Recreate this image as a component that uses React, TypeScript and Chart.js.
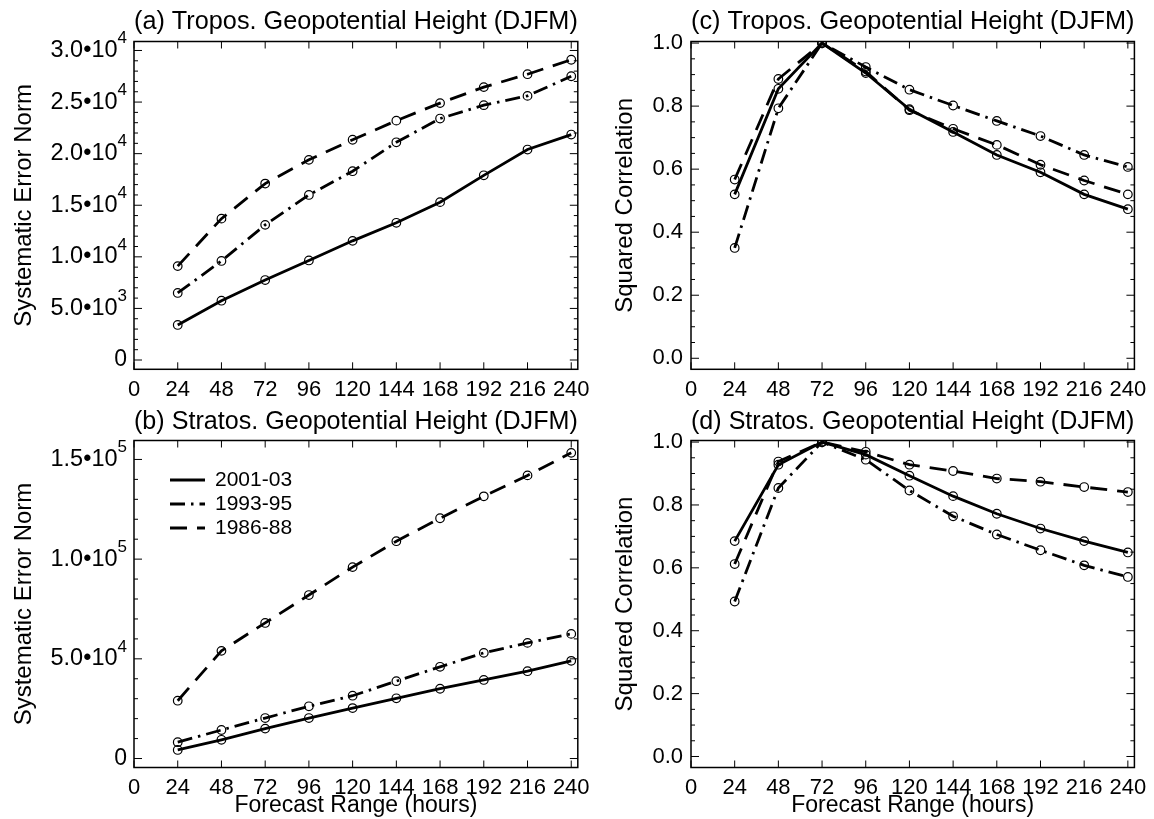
import React, { useEffect, useRef } from "react";
import { Chart, registerables } from "chart.js";

Chart.register(...registerables);

// ---------------- data ----------------
const HOURS = [24, 48, 72, 96, 120, 144, 168, 192, 216, 240];
const SERIES_NAMES = ["2001-03", "1993-95", "1986-88"];
const X_TICK_STEP = 24;
const X_MIN = 0;
const X_MAX = 243.6;

// (a) Tropospheric geopotential height, systematic error norm
const A_2001 = [3400, 5750, 7750, 9650, 11550, 13300, 15300, 17900, 20400, 21850];
const A_1993 = [6500, 9600, 13100, 16000, 18300, 21100, 23400, 24700, 25600, 27500];
const A_1986 = [9100, 13700, 17100, 19400, 21350, 23200, 24900, 26450, 27700, 29100];

// (b) Stratospheric geopotential height, systematic error norm
const B_2001 = [4300, 9400, 15000, 20300, 25300, 30200, 35000, 39400, 43800, 49000];
const B_1993 = [8200, 14300, 20300, 26200, 31500, 38800, 46000, 53000, 58000, 62500];
const B_1986 = [29000, 54000, 68000, 82000, 96000, 109000, 120500, 131500, 142000, 153300];

// (c) Tropospheric geopotential height, squared correlation
const C_2001 = [0.52, 0.855, 1.0, 0.905, 0.79, 0.718, 0.645, 0.59, 0.52, 0.473];
const C_1993 = [0.35, 0.793, 1.0, 0.924, 0.852, 0.802, 0.753, 0.705, 0.645, 0.607];
const C_1986 = [0.567, 0.886, 1.0, 0.91, 0.787, 0.728, 0.677, 0.614, 0.564, 0.52];

// (d) Stratospheric geopotential height, squared correlation
const D_2001 = [0.685, 0.928, 1.0, 0.96, 0.893, 0.828, 0.772, 0.725, 0.685, 0.649];
const D_1993 = [0.493, 0.854, 1.0, 0.944, 0.846, 0.764, 0.706, 0.656, 0.608, 0.571];
const D_1986 = [0.612, 0.938, 1.0, 0.969, 0.928, 0.908, 0.884, 0.874, 0.857, 0.841];

const TITLES = [
  "(a) Tropos. Geopotential Height (DJFM)",
  "(b) Stratos. Geopotential Height (DJFM)",
  "(c) Tropos. Geopotential Height (DJFM)",
  "(d) Stratos. Geopotential Height (DJFM)",
];
const Y_TITLE_ERR = "Systematic Error Norm";
const Y_TITLE_CORR = "Squared Correlation";
const X_TITLE = "Forecast Range (hours)";

// ---------------- styling ----------------
const FONT = "'Liberation Sans', Arial, Helvetica, sans-serif";
const W = 1154;
const H = 819;
const DASHES: number[][] = [[], [15, 6, 2.5, 6], [17, 10]];

type Panel = {
  title: string;
  yTitle: string;
  xTitle?: string;
  series: number[][];
  yMin: number;
  yMax: number;
  yMajor: number;
  yMinor: number;
  sci: boolean;
  legend: boolean;
  pad: { left: number; top: number; right: number; bottom: number };
  yWidth: number;
  xHeight: number;
  titlePad: { top: number; bottom: number };
  yTitlePad: number;
};

const PANELS: Panel[] = [
  {
    title: TITLES[0], yTitle: Y_TITLE_ERR, series: [A_2001, A_1993, A_1986],
    yMin: -900, yMax: 30870, yMajor: 5000, yMinor: 1000, sci: true, legend: false,
    pad: { left: 0, top: 0, right: W - 577.8, bottom: H - 369.3 - 40 },
    yWidth: 134, xHeight: 40, titlePad: { top: 6.7, bottom: 3.6 }, yTitlePad: 9.6,
  },
  {
    title: TITLES[1], yTitle: Y_TITLE_ERR, xTitle: X_TITLE, series: [B_2001, B_1993, B_1986],
    yMin: -4500, yMax: 159500, yMajor: 50000, yMinor: 10000, sci: true, legend: true,
    pad: { left: 0, top: 400, right: W - 577.8, bottom: 0 },
    yWidth: 134, xHeight: 51.5, titlePad: { top: 6.4, bottom: 2.9 }, yTitlePad: 9.6,
  },
  {
    title: TITLES[2], yTitle: Y_TITLE_CORR, series: [C_2001, C_1993, C_1986],
    yMin: -0.035, yMax: 1.005, yMajor: 0.2, yMinor: 0.05, sci: false, legend: false,
    pad: { left: 590, top: 0, right: 18, bottom: H - 369.3 - 40 },
    yWidth: 101, xHeight: 40, titlePad: { top: 6.7, bottom: 3.6 }, yTitlePad: 20.6,
  },
  {
    title: TITLES[3], yTitle: Y_TITLE_CORR, xTitle: X_TITLE, series: [D_2001, D_1993, D_1986],
    yMin: -0.035, yMax: 1.005, yMajor: 0.2, yMinor: 0.05, sci: false, legend: false,
    pad: { left: 590, top: 400, right: 18, bottom: 0 },
    yWidth: 101, xHeight: 51.5, titlePad: { top: 6.4, bottom: 2.9 }, yTitlePad: 20.6,
  },
];

// Draws the IDL-style frame, inward ticks, scientific tick labels and legend
const idlPlugin = {
  id: "idlFrame",
  afterDatasetsDraw(chart: any, _args: any, opts: any) {
    const { ctx, chartArea: ca } = chart;
    const xs = chart.scales.x;
    const ys = chart.scales.y;
    ctx.save();
    ctx.strokeStyle = "#000";
    // frame
    ctx.lineWidth = 1.5;
    ctx.setLineDash([]);
    ctx.strokeRect(ca.left, ca.top, ca.right - ca.left, ca.bottom - ca.top);
    // x ticks
    ctx.lineWidth = 1;
    for (let v = X_MIN; v <= X_MAX + 1e-9; v += X_TICK_STEP) {
      const px = xs.getPixelForValue(v);
      ctx.beginPath();
      ctx.moveTo(px, ca.bottom);
      ctx.lineTo(px, ca.bottom - 7);
      ctx.moveTo(px, ca.top);
      ctx.lineTo(px, ca.top + 7);
      ctx.stroke();
    }
    // y ticks (major + minor)
    const start = Math.ceil(ys.min / opts.yMinor - 1e-6);
    const end = Math.floor(ys.max / opts.yMinor + 1e-6);
    const ratio = Math.round(opts.yMajor / opts.yMinor);
    for (let k = start; k <= end; k++) {
      const v = k * opts.yMinor;
      const py = ys.getPixelForValue(v);
      const len = k % ratio === 0 ? 8 : 4;
      ctx.beginPath();
      ctx.moveTo(ca.left, py);
      ctx.lineTo(ca.left + len, py);
      ctx.moveTo(ca.right, py);
      ctx.lineTo(ca.right - len, py);
      ctx.stroke();
    }
    // scientific labels
    if (opts.sci) {
      ctx.fillStyle = "#000";
      ctx.textBaseline = "middle";
      ctx.textAlign = "right";
      const xr = ca.left - 7;
      for (let v = 0; v <= ys.max + 1e-9; v += opts.yMajor) {
        const py = ys.getPixelForValue(v);
        if (v === 0) {
          ctx.font = `23px ${FONT}`;
          ctx.fillText("0", xr, py);
          continue;
        }
        const e = Math.floor(Math.log10(v) + 1e-9);
        const m = v / Math.pow(10, e);
        const sup = String(e);
        ctx.font = `17px ${FONT}`;
        const sw = ctx.measureText(sup).width;
        ctx.fillText(sup, xr, py - 12);
        ctx.font = `23.5px ${FONT}`;
        ctx.fillText(m.toFixed(1) + "\u202210", xr - sw, py);
      }
    }
    // legend
    if (opts.legend) {
      chart.data.datasets.forEach((d: any, i: number) => {
        const y = ca.top + 39.5 + i * 24;
        ctx.strokeStyle = "#000";
        ctx.lineWidth = d.borderWidth;
        ctx.setLineDash(d.borderDash || []);
        ctx.beginPath();
        ctx.moveTo(ca.left + 36, y);
        ctx.lineTo(ca.left + 71, y);
        ctx.stroke();
        ctx.setLineDash([]);
        ctx.fillStyle = "#000";
        ctx.font = `21px ${FONT}`;
        ctx.textAlign = "left";
        ctx.textBaseline = "middle";
        ctx.fillText(d.label, ca.left + 81, y);
      });
    }
    ctx.restore();
  },
};

function PanelChart({ p }: { p: Panel }) {
  const ref = useRef<HTMLCanvasElement | null>(null);
  useEffect(() => {
    if (!ref.current) return;
    const datasets = p.series.map((vals, i) => ({
      label: SERIES_NAMES[i],
      data: HOURS.map((h, j) => ({ x: h, y: vals[j] })),
      borderColor: "#000",
      borderWidth: 2.8,
      borderDash: DASHES[i],
      pointRadius: 4.3,
      pointBorderWidth: 1.2,
      pointBorderColor: "#000",
      pointBackgroundColor: "rgba(0,0,0,0)",
      pointStyle: "circle",
      tension: 0,
      fill: false,
    }));
    const tickFont = { family: FONT, size: 22 };
    const chart = new Chart(ref.current, {
      type: "line",
      data: { datasets },
      plugins: [idlPlugin],
      options: {
        animation: false,
        responsive: false,
        layout: { padding: p.pad, autoPadding: false },
        plugins: {
          legend: { display: false },
          tooltip: { enabled: false },
          title: {
            display: true,
            text: p.title,
            fullSize: false,
            color: "#000",
            font: { family: FONT, size: 26, weight: "normal" },
            padding: p.titlePad,
          },
          idlFrame: {
            yMajor: p.yMajor,
            yMinor: p.yMinor,
            sci: p.sci,
            legend: p.legend,
          },
        } as any,
        scales: {
          x: {
            type: "linear",
            min: X_MIN,
            max: X_MAX,
            afterFit: (s: any) => {
              s.height = p.xHeight;
            },
            grid: { display: false, drawTicks: false },
            border: { display: false },
            ticks: {
              stepSize: X_TICK_STEP,
              includeBounds: false,
              autoSkip: false,
              maxRotation: 0,
              padding: 7.5,
              color: "#000",
              font: tickFont,
            },
            title: {
              display: !!p.xTitle,
              text: p.xTitle || "",
              color: "#000",
              font: { family: FONT, size: 23 },
              padding: { top: 0, bottom: 0 },
            },
          },
          y: {
            type: "linear",
            min: p.yMin,
            max: p.yMax,
            afterFit: (s: any) => {
              s.width = p.yWidth;
            },
            grid: { display: false, drawTicks: false },
            border: { display: false },
            ticks: {
              stepSize: p.yMajor,
              includeBounds: false,
              autoSkip: false,
              padding: 8,
              color: "#000",
              font: tickFont,
              callback: (v: any) => (p.sci ? "" : Number(v).toFixed(1)),
            },
            title: {
              display: true,
              text: p.yTitle,
              color: "#000",
              font: { family: FONT, size: 24 },
              padding: { top: p.yTitlePad, bottom: 0 },
            },
          },
        },
      } as any,
    });
    return () => chart.destroy();
  }, [p]);
  return (
    <canvas
      ref={ref}
      width={W}
      height={H}
      style={{ position: "absolute", left: 0, top: 0, width: W, height: H }}
    />
  );
}

export default function App() {
  return (
    <div
      style={{
        position: "absolute",
        left: 0,
        top: 0,
        width: W,
        height: H,
        background: "#fff",
        overflow: "hidden",
      }}
    >
      {PANELS.map((p, i) => (
        <PanelChart key={i} p={p} />
      ))}
    </div>
  );
}
